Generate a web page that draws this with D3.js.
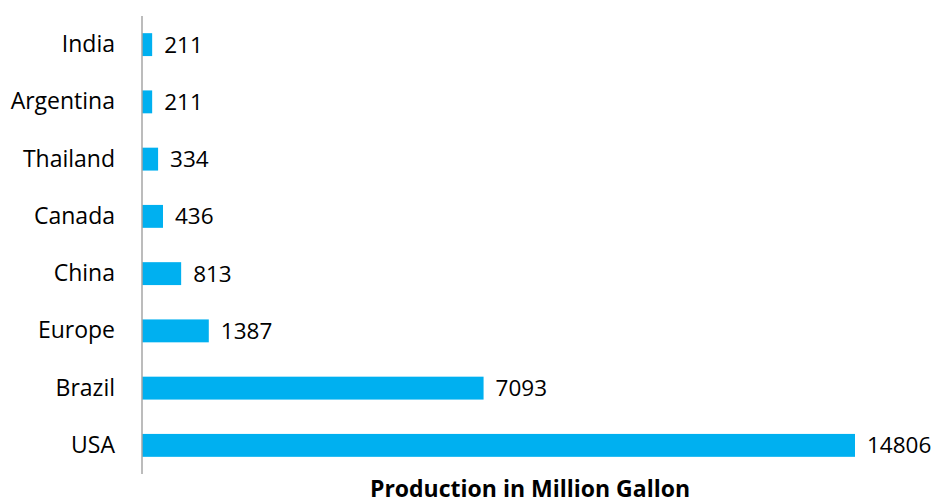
<!DOCTYPE html>
<html>
<head>
<meta charset="utf-8">
<script src="https://cdn.jsdelivr.net/npm/d3@7/dist/d3.min.js"></script>
<style>
  html, body { margin: 0; padding: 0; background: #fff; }
  svg { display: block; }
</style>
</head>
<body>
<svg id="chart" width="936" height="504"></svg>
<script>
// Ethanol production by country (million gallons)
const countries = ["India", "Argentina", "Thailand", "Canada", "China", "Europe", "Brazil", "USA"];
const production = [211, 211, 334, 436, 813, 1387, 7093, 14806];
const axisTitle = "Production in Million Gallon";

const plotLeft = 142, plotRight = 855, plotTop = 16, plotBottom = 474;

const svg = d3.select("#chart");

const x = d3.scaleLinear()
  .domain([0, d3.max(production)])
  .range([plotLeft, plotRight]);

const y = d3.scaleBand()
  .domain(countries)
  .range([plotTop, plotBottom])
  .paddingInner(0.6)
  .paddingOuter(0.3);

const font = "'Open Sans', 'Noto Sans', sans-serif";

// bars
svg.append("g")
  .selectAll("rect")
  .data(countries)
  .join("rect")
  .attr("x", x(0))
  .attr("y", d => y(d))
  .attr("width", (d, i) => x(production[i]) - x(0))
  .attr("height", y.bandwidth())
  .attr("fill", "#00B0F0");

// category axis
const yAxis = svg.append("g")
  .attr("transform", `translate(${plotLeft},0)`)
  .call(d3.axisLeft(y).tickSize(0).tickPadding(27));
yAxis.select(".domain")
  .attr("d", `M0,${plotTop}V${plotBottom}`)
  .attr("stroke", "#a6a6a6")
  .attr("stroke-width", 1.5);
yAxis.selectAll("text")
  .attr("font-family", font)
  .attr("font-size", 23)
  .attr("fill", "#000");

// value labels
svg.append("g")
  .selectAll("text")
  .data(countries)
  .join("text")
  .attr("x", (d, i) => x(production[i]) + 12)
  .attr("y", d => y(d) + y.bandwidth() / 2)
  .attr("dy", "0.35em")
  .attr("font-family", font)
  .attr("font-size", 22.5)
  .attr("fill", "#000")
  .text((d, i) => production[i]);

// axis title
svg.append("text")
  .attr("x", 530)
  .attr("y", 497)
  .attr("text-anchor", "middle")
  .attr("font-family", font)
  .attr("font-weight", "bold")
  .attr("font-size", 23)
  .attr("fill", "#000")
  .text(axisTitle);
</script>
</body>
</html>
